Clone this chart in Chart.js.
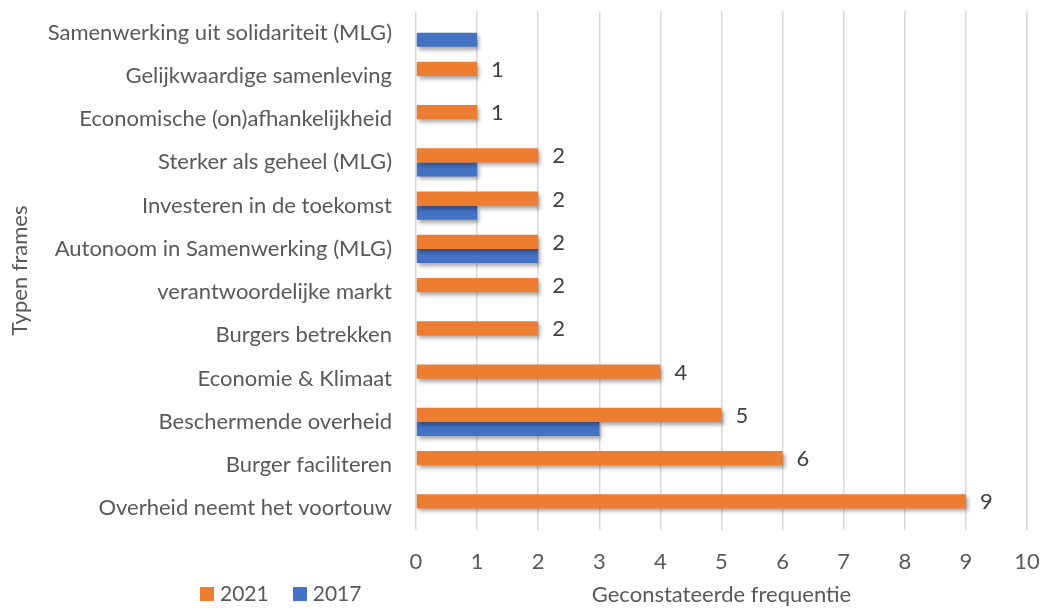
<!DOCTYPE html>
<html>
<head>
<meta charset="utf-8">
<script src="https://cdn.jsdelivr.net/npm/chart.js@4"></script>
<style>
  body { margin: 0; background: #fff; }
  #wrap { position: relative; width: 1043px; height: 608px; }
  #legend { position: absolute; left: 200px; top: 580px; font: 21px Lato, sans-serif; color: #595959; display: flex; gap: 24px; line-height: 26px; }
  #legend span.box { display: inline-block; width: 14px; height: 14px; margin-right: 6px; }
</style>
</head>
<body>
<div id="wrap">
  <canvas id="chart" width="1043" height="608"></canvas>
  <div id="legend"></div>
</div>
<script>
// frames, top to bottom
const categories = [
  'Samenwerking uit solidariteit (MLG)',
  'Gelijkwaardige samenleving',
  'Economische (on)afhankelijkheid',
  'Sterker als geheel (MLG)',
  'Investeren in de toekomst',
  'Autonoom in Samenwerking (MLG)',
  'verantwoordelijke markt',
  'Burgers betrekken',
  'Economie & Klimaat',
  'Beschermende overheid',
  'Burger faciliteren',
  'Overheid neemt het voortouw'
];
const values2021 = [null, 1, 1, 2, 2, 2, 2, 2, 4, 5, 6, 9];
const values2017 = [1, null, null, 1, 1, 2, null, null, null, 3, null, null];
const xTicks = [0, 1, 2, 3, 4, 5, 6, 7, 8, 9, 10];

const orange = '#ED7D31';
const blue = '#4472C4';
const textColor = '#595959';
const fontFamily = 'Lato, sans-serif';
const fontSize = 22;

// soft shadow under the bars
const barShadow = {
  id: 'barShadow',
  beforeDatasetsDraw(chart) {
    const c = chart.ctx;
    c.save();
    c.shadowColor = 'rgba(0,0,0,0.35)';
    c.shadowBlur = 4;
    c.shadowOffsetX = 2;
    c.shadowOffsetY = 3;
  },
  afterDatasetsDraw(chart) {
    chart.ctx.restore();
  }
};

// value labels for the 2021 series only
const valueLabels = {
  id: 'valueLabels',
  afterDraw(chart) {
    const c = chart.ctx;
    const meta = chart.getDatasetMeta(0);
    c.save();
    c.font = fontSize + 'px ' + fontFamily;
    c.fillStyle = '#404040';
    c.textAlign = 'left';
    c.textBaseline = 'middle';
    meta.data.forEach((bar, i) => {
      const v = values2021[i];
      if (v == null) return;
      c.fillText(String(v), bar.x + 14, bar.y + 1);
    });
    c.restore();
  }
};

const ctx = document.getElementById('chart').getContext('2d');
const chart = new Chart(ctx, {
  type: 'bar',
  data: {
    labels: categories,
    datasets: [
      { label: '2021', data: values2021, backgroundColor: orange },
      { label: '2017', data: values2017, backgroundColor: blue }
    ]
  },
  options: {
    indexAxis: 'y',
    responsive: false,
    animation: false,
    categoryPercentage: 0.65,
    barPercentage: 1,
    layout: { padding: { top: 10, right: 16, left: 0, bottom: 0 } },
    scales: {
      x: {
        min: 0,
        max: 10,
        afterBuildTicks(scale) {
          scale.ticks = xTicks.map(v => ({ value: v }));
        },
        afterFit(scale) { scale.height = 78; },
        grid: { color: '#d9d9d9', lineWidth: 1.5, drawTicks: true, tickLength: 19, tickColor: 'rgba(0,0,0,0)' },
        border: { display: false },
        ticks: { color: textColor, padding: 0, font: { family: fontFamily, size: fontSize } },
        title: {
          display: true,
          text: 'Geconstateerde frequentie',
          color: textColor,
          font: { family: fontFamily, size: fontSize },
          padding: { top: 2, bottom: 0 }
        }
      },
      y: {
        afterFit(scale) { scale.width = 416; },
        grid: { display: false, drawTicks: true, tickLength: 24 },
        border: { display: false },
        ticks: { color: textColor, padding: 0, font: { family: fontFamily, size: fontSize, lineHeight: 1 } },
        title: {
          display: true,
          text: 'Typen frames',
          color: textColor,
          font: { family: fontFamily, size: fontSize },
          padding: { top: 7, bottom: 0 }
        }
      }
    },
    plugins: {
      legend: { display: false },
      tooltip: { enabled: false }
    }
  },
  plugins: [barShadow, valueLabels]
});

// legend below the chart, bottom left
const legend = document.getElementById('legend');
chart.data.datasets.forEach(ds => {
  const item = document.createElement('div');
  item.innerHTML = '<span class="box" style="background:' + ds.backgroundColor + '"></span>' + ds.label;
  legend.appendChild(item);
});
</script>
</body>
</html>
